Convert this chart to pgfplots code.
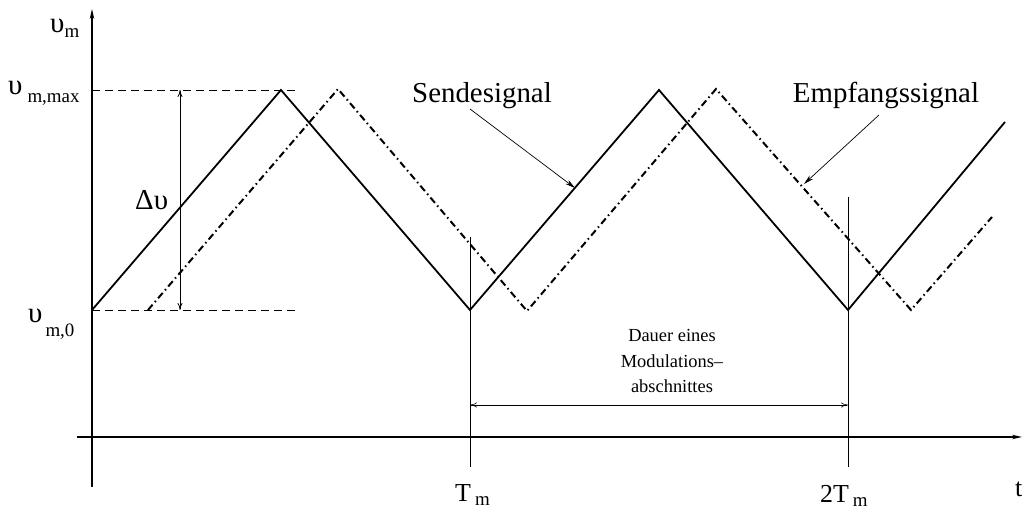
\documentclass[border=0pt]{standalone}
\usepackage{pgfplots}
\pgfplotsset{compat=1.18}
\usepackage{fontspec}
\setmainfont{Liberation Serif}
\usetikzlibrary{arrows.meta}

\newcommand{\bigf}{\fontsize{29}{34}\selectfont}
\newcommand{\midf}{\fontsize{26}{30}\selectfont}
\newcommand{\subf}{\fontsize{19}{22}\selectfont}
\newcommand{\smallf}{\fontsize{18.5}{22}\selectfont}

\begin{document}
\begin{tikzpicture}
\begin{axis}[
  hide axis, scale only axis,
  x=1bp, y=1bp,
  xmin=-92, xmax=931, ymin=-74, ymax=437,
  clip=false,
]
% frame of the drawing area
\path (axis cs:-92,-74) rectangle (axis cs:931,437);

% coordinate axes
\draw[line width=1.5pt, -{Stealth[length=10pt,width=4.5pt]}] (axis cs:-15,0) -- (axis cs:930,0);
\draw[line width=1.5pt, -{Stealth[length=10pt,width=4.5pt]}] (axis cs:0,-50) -- (axis cs:0,428);

% reference levels
\draw[line width=0.8pt, dash pattern=on 8bp off 5bp] (axis cs:0,347) -- (axis cs:208,347);
\draw[line width=0.8pt, dash pattern=on 8bp off 5bp] (axis cs:0,127) -- (axis cs:208,127);

% transmitted signal
\addplot[line width=1.8pt, black, line join=miter, mark=none]
  coordinates {(0,127) (189,347) (378,127) (567,347) (756,127) (913,315)};
% received signal
\addplot[line width=2pt, black, line join=miter, mark=none,
  dash pattern=on 7bp off 3.5bp on 1.5bp off 3.5bp]
  coordinates {(56,127) (246,348) (435,126) (624,348) (819,127) (900,220)};

% sweep width
\draw[line width=0.8pt, {To[length=7pt,width=5pt]}-{To[length=7pt,width=5pt]}]
  (axis cs:88,127) -- (axis cs:88,347);
\node[anchor=base west, inner sep=0pt, font=\bigf] at (axis cs:43,227) {Δυ};

% period markers
\draw[line width=0.8pt] (axis cs:378,200) -- (axis cs:378,-30);
\draw[line width=0.8pt] (axis cs:756,240) -- (axis cs:756,-30);
\draw[line width=0.6pt, {To[length=7pt,width=5pt]}-{To[length=7pt,width=5pt]}]
  (axis cs:378,32) -- (axis cs:756,32);
\node[anchor=base, inner sep=0pt, font=\smallf] at (axis cs:580,95) {Dauer eines};
\node[anchor=base, inner sep=0pt, font=\smallf] at (axis cs:580,69) {Modulations–};
\node[anchor=base, inner sep=0pt, font=\smallf] at (axis cs:580,44) {abschnittes};

% signal names
\node[anchor=base, inner sep=0pt, font=\bigf] at (axis cs:390,334) {Sendesignal};
\node[anchor=base, inner sep=0pt, font=\bigf] at (axis cs:794,334) {Empfangssignal};
\draw[line width=0.7pt, -{Stealth[length=10pt,width=5pt]}] (axis cs:378,328) -- (axis cs:483,249);
\draw[line width=0.7pt, -{Stealth[length=10pt,width=5pt]}] (axis cs:787,322) -- (axis cs:712,253);

% axis labels
\node[anchor=base west, inner sep=0pt, font=\bigf] at (axis cs:-42,404)
  {υ\raisebox{-5bp}{\subf m}};
\node[anchor=base west, inner sep=0pt, font=\bigf] at (axis cs:-84,342)
  {υ\hspace{5bp}\raisebox{-8bp}{\subf m,max}};
\node[anchor=base west, inner sep=0pt, font=\bigf] at (axis cs:-64,114)
  {υ\hspace{3bp}\raisebox{-14bp}{\subf m,0}};
\node[anchor=base west, inner sep=0pt, font=\midf] at (axis cs:923,-60) {t};
\node[anchor=base west, inner sep=0pt, font=\midf] at (axis cs:363,-65)
  {T\hspace{4bp}\raisebox{-4bp}{\subf m}};
\node[anchor=base west, inner sep=0pt, font=\midf] at (axis cs:728,-66)
  {2T\hspace{4bp}\raisebox{-4bp}{\subf m}};
\end{axis}
\end{tikzpicture}
\end{document}
